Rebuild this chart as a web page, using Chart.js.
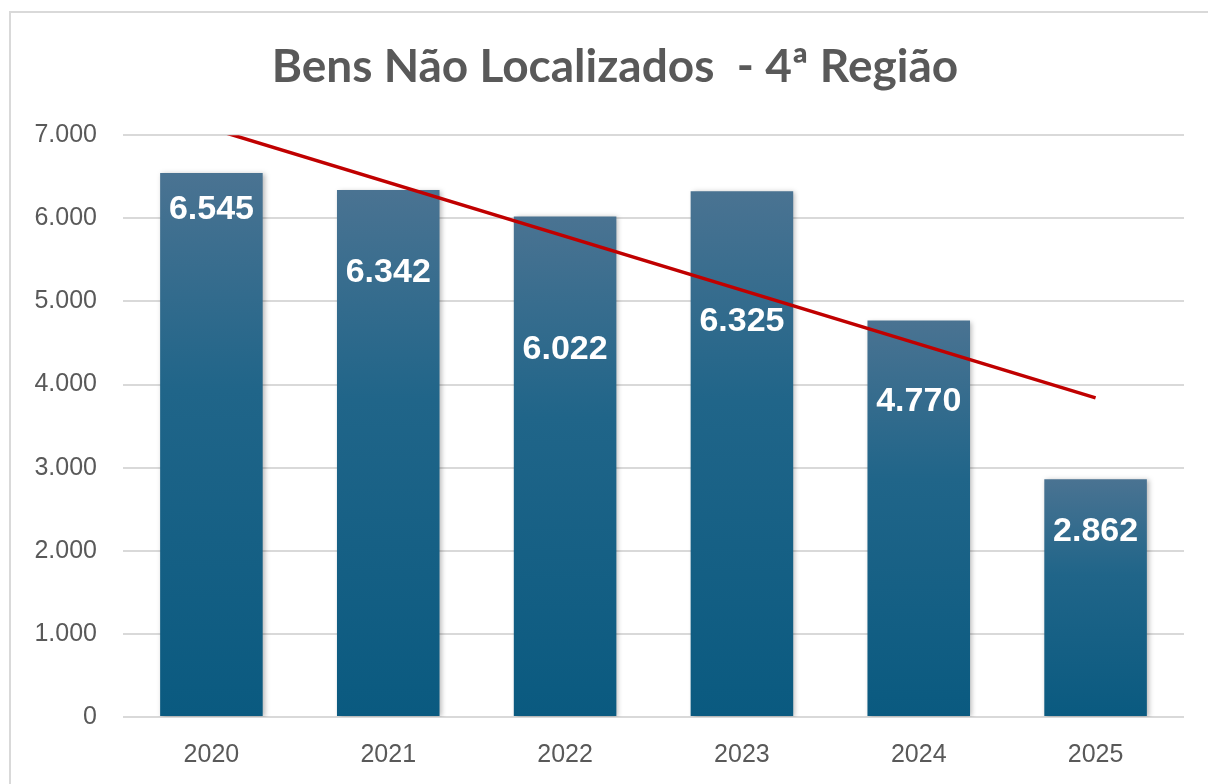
<!DOCTYPE html>
<html>
<head>
<meta charset="utf-8">
<script src="https://cdn.jsdelivr.net/npm/chart.js@4.4.1/dist/chart.umd.min.js"></script>
<style>
  html, body { margin: 0; padding: 0; background: #fff; overflow: hidden; }
  #frame { position: absolute; left: 9px; top: 11px; width: 1300px; height: 900px; border: 2px solid #d9d9d9; }
  #chart { position: absolute; left: 0; top: 0; }
</style>
</head>
<body>
<div id="frame">
  <canvas id="chart" width="1208" height="772"></canvas>
</div>
<script>
// dados
const anos = ['2020', '2021', '2022', '2023', '2024', '2025'];
const bensNaoLocalizados = [6545, 6342, 6022, 6325, 4770, 2862];
// linha de tendência (só as pontas)
const tendencia = [7080, null, null, null, null, 3840];
const eixoY = { min: 0, max: 7000, passo: 1000 };

// deslocamento (px) do rótulo abaixo do topo de cada barra
const labelDrop = [37, 83, 133, 130, 81, 52];

function fmt(v) {
    return String(Math.round(v)).replace(/\B(?=(\d{3})+(?!\d))/g, '.');
}

function barGradient(context) {
    const chart = context.chart;
    if (!chart.chartArea) return '#1d6488';
    const y = chart.scales.y;
    const top = y.getPixelForValue(context.raw);
    const bottom = y.getPixelForValue(0);
    const g = chart.ctx.createLinearGradient(0, top, 0, bottom);
    g.addColorStop(0, '#4a7392');
    g.addColorStop(0.4, '#206589');
    g.addColorStop(1, '#0a5a80');
    return g;
}

// sombra suave nas barras (dataset 1 = barras)
const barShadow = {
    id: 'barShadow',
    beforeDatasetDraw(chart, args) {
        if (args.index !== 1) return;
        const ctx = chart.ctx;
        ctx.save();
        ctx.shadowColor = 'rgba(0,0,0,0.28)';
        ctx.shadowBlur = 5;
        ctx.shadowOffsetX = 2;
        ctx.shadowOffsetY = 1;
    },
    afterDatasetDraw(chart, args) {
        if (args.index !== 1) return;
        chart.ctx.restore();
    }
};

// rótulos de valor dentro das barras
const valueLabels = {
    id: 'valueLabels',
    afterDatasetsDraw(chart) {
        const ctx = chart.ctx;
        const meta = chart.getDatasetMeta(1);
        ctx.save();
        ctx.font = 'bold 34px "Liberation Sans", Arial, sans-serif';
        ctx.fillStyle = '#ffffff';
        ctx.textAlign = 'center';
        ctx.textBaseline = 'middle';
        meta.data.forEach((bar, i) => {
            ctx.fillText(fmt(bensNaoLocalizados[i]), bar.x, bar.y + labelDrop[i]);
        });
        ctx.restore();
    }
};

const ctxChart = document.getElementById('chart').getContext('2d');
new Chart(ctxChart, {
    data: {
        labels: anos,
        datasets: [{
            type: 'line',
            label: 'Tendência',
            data: tendencia,
            spanGaps: true,
            borderColor: '#c00000',
            borderWidth: 3.5,
            pointRadius: 0,
            order: 0
        }, {
            type: 'bar',
            label: 'Bens Não Localizados',
            data: bensNaoLocalizados,
            backgroundColor: barGradient,
            categoryPercentage: 1,
            barPercentage: 0.58,
            order: 1
        }]
    },
    options: {
        responsive: false,
        animation: false,
        layout: { padding: { left: 0, right: 0, top: 0, bottom: 0 } },
        plugins: {
            legend: { display: false },
            tooltip: { enabled: false },
            title: {
                display: true,
                text: 'Bens Não Localizados  - 4ª Região',
                color: '#595959',
                font: { family: 'Lato', size: 46, weight: 'bold', lineHeight: 1.2 },
                padding: { top: 27, bottom: 40 }
            }
        },
        scales: {
            x: {
                grid: { display: false },
                border: { display: false },
                ticks: {
                    color: '#595959',
                    padding: 15,
                    font: { family: '"Liberation Sans", Arial, sans-serif', size: 25 }
                }
            },
            y: {
                min: eixoY.min,
                max: eixoY.max,
                afterFit(scale) { scale.width = 112; },
                grid: { color: '#d9d9d9', lineWidth: 2, drawTicks: false },
                border: { display: false },
                ticks: {
                    stepSize: eixoY.passo,
                    color: '#595959',
                    padding: 26,
                    font: { family: '"Liberation Sans", Arial, sans-serif', size: 25 },
                    callback: (v) => fmt(v)
                }
            },
            // eixo vazio à direita, só para reservar a margem
            yMargem: {
                position: 'right',
                display: true,
                afterFit(scale) { scale.width = 35; },
                grid: { display: false, drawTicks: false },
                border: { display: false },
                ticks: { display: false }
            }
        }
    },
    plugins: [barShadow, valueLabels]
});
</script>
</body>
</html>
